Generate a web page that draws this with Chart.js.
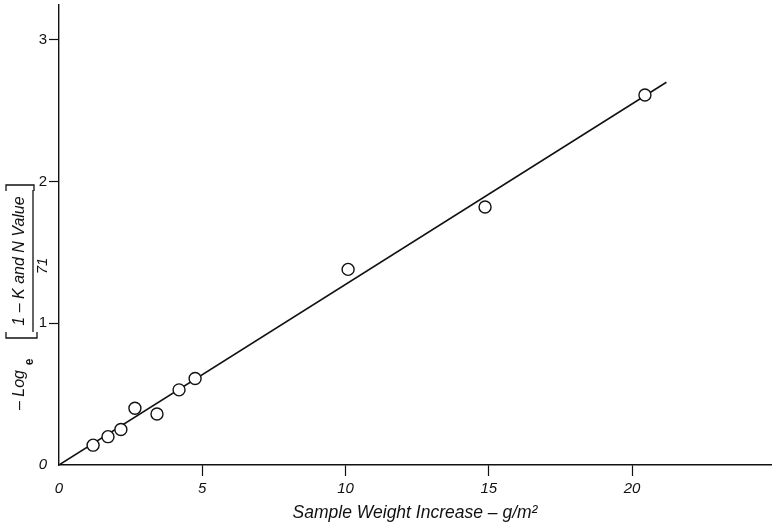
<!DOCTYPE html>
<html>
<head>
<meta charset="utf-8">
<script src="https://cdn.jsdelivr.net/npm/chart.js@4.4.1/dist/chart.umd.min.js"></script>
<style>
  html, body { margin: 0; padding: 0; background: #fff; }
  #wrap { width: 772px; height: 528px; }
</style>
</head>
<body>
<div id="wrap"><canvas id="plot" width="772" height="528"></canvas></div>
<script>
// measured samples
var weightGain = [1.19, 1.71, 2.16, 2.65, 3.42, 4.19, 4.75, 10.09, 14.87, 20.45];
var logValue   = [0.14, 0.20, 0.25, 0.40, 0.36, 0.53, 0.61, 1.38, 1.82, 2.61];

// fitted straight line through the origin
var fitX = [0, 21.2];
var fitY = [0, 2.7];

var xTicks = [0, 5, 10, 15, 20];
var yTicks = [0, 1, 2, 3];

var FONT = '"Liberation Sans", Arial, Helvetica, sans-serif';
var INK = "#111";

var samplePoints = weightGain.map(function(x, i) { return { x: x, y: logValue[i] }; });
var fitPoints = fitX.map(function(x, i) { return { x: x, y: fitY[i] }; });

// y axis caption: - Log_e [ (1 - K and N Value) / 71 ], written bottom to top
var yCaption = {
  id: "yCaption",
  afterDraw: function(chart) {
    var c = chart.ctx;
    function upText(txt, x, y, font) {
      c.save();
      c.translate(x, y);
      c.rotate(-Math.PI / 2);
      c.font = font;
      c.textAlign = "center";
      c.textBaseline = "middle";
      c.fillText(txt, 0, 0);
      c.restore();
    }
    c.save();
    c.fillStyle = INK;
    c.strokeStyle = INK;
    c.lineWidth = 1.3;
    upText("\u2013 Log", 20, 390, "italic 16px " + FONT);
    upText("e", 30, 362, "bold 12px " + FONT);
    upText("1 \u2013 K and N Value", 20, 261, "italic 16px " + FONT);
    upText("71", 43, 266, "italic 15px " + FONT);
    // fraction bar
    c.beginPath();
    c.moveTo(33, 190);
    c.lineTo(33, 332);
    c.stroke();
    // opening bracket
    c.beginPath();
    c.moveTo(6, 332);
    c.lineTo(6, 338);
    c.lineTo(37, 338);
    c.lineTo(37, 332);
    c.stroke();
    // closing bracket
    c.beginPath();
    c.moveTo(6, 191);
    c.lineTo(6, 185);
    c.lineTo(34, 185);
    c.lineTo(34, 191);
    c.stroke();
    c.restore();
  }
};

function hideZeroTick(ctx) {
  return ctx.tick && ctx.tick.value === 0 ? "rgba(0,0,0,0)" : INK;
}

// keep the plot area edge to edge: no extra room reserved for tick labels
function noLabelPadding(scale) {
  scale.paddingTop = 0;
  scale.paddingBottom = 0;
  scale.paddingLeft = 0;
  scale.paddingRight = 0;
}

new Chart(document.getElementById("plot"), {
  type: "scatter",
  data: {
    datasets: [
      {
        label: "samples",
        data: samplePoints,
        pointRadius: 6,
        pointHoverRadius: 6,
        pointBackgroundColor: "#fff",
        pointBorderColor: INK,
        pointBorderWidth: 1.4,
        showLine: false
      },
      {
        label: "fit",
        type: "line",
        data: fitPoints,
        borderColor: INK,
        borderWidth: 1.5,
        pointRadius: 0,
        fill: false,
        tension: 0
      }
    ]
  },
  options: {
    responsive: false,
    animation: false,
    devicePixelRatio: 1,
    layout: { autoPadding: false, padding: { top: 5, right: 1, left: 0, bottom: 0 } },
    plugins: {
      legend: { display: false },
      tooltip: { enabled: false }
    },
    scales: {
      x: {
        type: "linear",
        min: 0,
        max: 24.85,
        afterBuildTicks: function(scale) {
          scale.ticks = xTicks.map(function(v) { return { value: v }; });
        },
        afterFit: function(scale) {
          scale.height = 63;
          noLabelPadding(scale);
        },
        grid: {
          drawOnChartArea: false,
          drawTicks: true,
          tickLength: 11,
          tickColor: hideZeroTick,
          tickWidth: 1.2
        },
        border: { display: true, color: INK, width: 1.4 },
        ticks: {
          color: INK,
          padding: 4,
          maxRotation: 0,
          font: { family: FONT, size: 15, style: "italic" }
        },
        title: {
          display: true,
          text: "Sample Weight Increase \u2013 g/m\u00B2",
          color: INK,
          padding: { top: 0, bottom: 4 },
          font: { family: FONT, size: 17.5, style: "italic" }
        }
      },
      y: {
        type: "linear",
        min: 0,
        max: 3.245,
        afterBuildTicks: function(scale) {
          scale.ticks = yTicks.map(function(v) { return { value: v }; });
        },
        afterFit: function(scale) {
          scale.width = 59;
          noLabelPadding(scale);
        },
        grid: {
          drawOnChartArea: false,
          drawTicks: true,
          tickLength: 10,
          tickColor: hideZeroTick,
          tickWidth: 1.2
        },
        border: { display: true, color: INK, width: 1.4 },
        ticks: {
          color: INK,
          padding: 2,
          font: function(ctx) {
            var zero = ctx.tick && ctx.tick.value === 0;
            return { family: FONT, size: 15, style: zero ? "italic" : "normal" };
          }
        }
      }
    }
  },
  plugins: [yCaption]
});
</script>
</body>
</html>
